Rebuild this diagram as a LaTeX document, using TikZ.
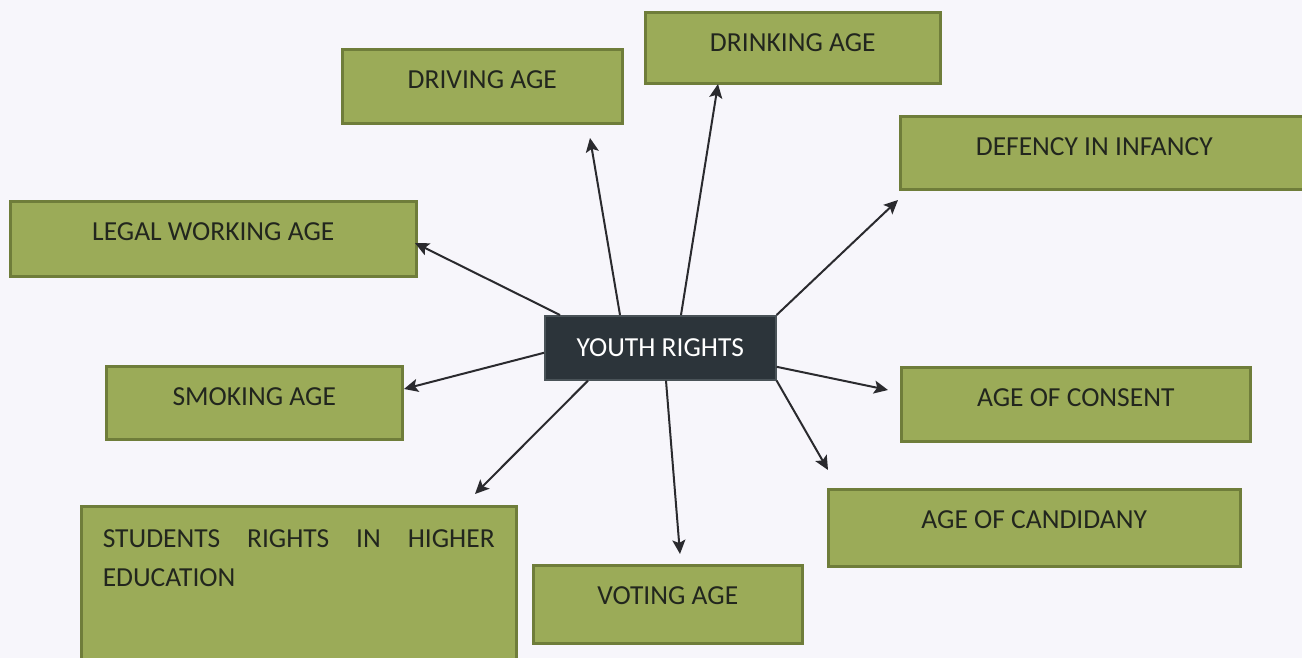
\documentclass[tikz,border=0pt]{standalone}
\usepackage{fontspec}
\setmainfont{Carlito}
\usetikzlibrary{arrows.meta,calc}
\definecolor{bg}{HTML}{F7F6FB}
\definecolor{gfill}{HTML}{9BAB58}
\definecolor{gborder}{HTML}{6F7D3A}
\definecolor{gtext}{HTML}{22261E}
\definecolor{dfill}{HTML}{2C343A}
\definecolor{dborder}{HTML}{4A5358}
\definecolor{arrc}{HTML}{2A2A2E}
\tikzset{
  txt/.style={font=\fontsize{13.75pt}{19.5pt}\selectfont},
  gbox/.style n args={2}{txt, draw=gborder, fill=gfill, line width=1.5pt, inner sep=0pt,
    anchor=north west, text=gtext, minimum width=#1, text height=19.75pt, text depth=#2},
  dbox/.style n args={2}{txt, draw=dborder, fill=dfill, line width=0.8pt, inner sep=0pt,
    anchor=north west, text=white, minimum width=#1, text height=20.5pt, text depth=#2},
  arr/.style={draw=arrc, line width=1pt, -{Stealth[length=7pt,width=6.5pt,inset=1.5pt]}},
}
\begin{document}
\begin{tikzpicture}[x=0.5pt,y=-0.5pt]
\useasboundingbox (0,0) rectangle (1302,658);
\clip (0,0) rectangle (1302,658);
\fill[bg] (0,0) rectangle (1302,658);

\node[dbox={115.5pt}{11.5pt}] (yr) at (544,315) {YOUTH RIGHTS};

\node[gbox={140pt}{17.25pt}] (drv) at (340.75,47.75) {DRIVING AGE};
\node[gbox={147.5pt}{15.75pt}] (drk) at (643.75,10.75) {DRINKING AGE};
\node[gbox={210pt}{16.75pt}] (dfi) at (898.75,114.75) {DEFENCY IN INFANCY\kern16pt};
\node[gbox={203pt}{17.75pt}] (lwa) at (8.75,199.75) {LEGAL WORKING AGE};
\node[gbox={148pt}{16.75pt}] (smk) at (104.75,364.75) {SMOKING AGE};
\node[gbox={174.5pt}{17.25pt}] (cns) at (899.75,365.75) {AGE OF CONSENT};
\node[gbox={206pt}{18.75pt}] (cnd) at (826.75,487.75) {AGE OF CANDIDANY};
\node[gbox={134.5pt}{19.25pt}] (vot) at (531.75,563.75) {VOTING AGE};
\node[txt, draw=gborder, fill=gfill, line width=1.5pt, anchor=north west, text=gtext,
      inner xsep=10pt, inner ysep=11.75pt, minimum width=217.5pt] (stu) at (79.75,504.75)
  {\parbox[t][85pt][t]{196pt}{\fontsize{13.75pt}{19.5pt}\selectfont STUDENTS\hfill RIGHTS\hfill IN\hfill HIGHER\\EDUCATION}};

\coordinate (tdrv) at (590,138);
\coordinate (tdrk) at (718,84);
\coordinate (tdfi) at (898,200);
\coordinate (tlwa) at (415,243);
\coordinate (tsmk) at (404,389);
\coordinate (tstu) at (475,494);
\coordinate (tvot) at (680,554);
\coordinate (tcnd) at (828,470);
\coordinate (tcns) at (888,390);

\draw[arr] ($(yr.north west)+(76,0)$) -- (tdrv);
\draw[arr] ($(yr.north west)+(137,0)$) -- (tdrk);
\draw[arr] (yr.north east) -- (tdfi);
\draw[arr] ($(yr.north west)+(16,0)$) -- (tlwa);
\draw[arr] ($(yr.west)+(0,5)$) -- (tsmk);
\draw[arr] ($(yr.south west)+(44,0)$) -- (tstu);
\draw[arr] ($(yr.south west)+(122,0)$) -- (tvot);
\draw[arr] (yr.south east) -- (tcnd);
\draw[arr] ($(yr.east)+(0,19)$) -- (tcns);
\end{tikzpicture}
\end{document}
